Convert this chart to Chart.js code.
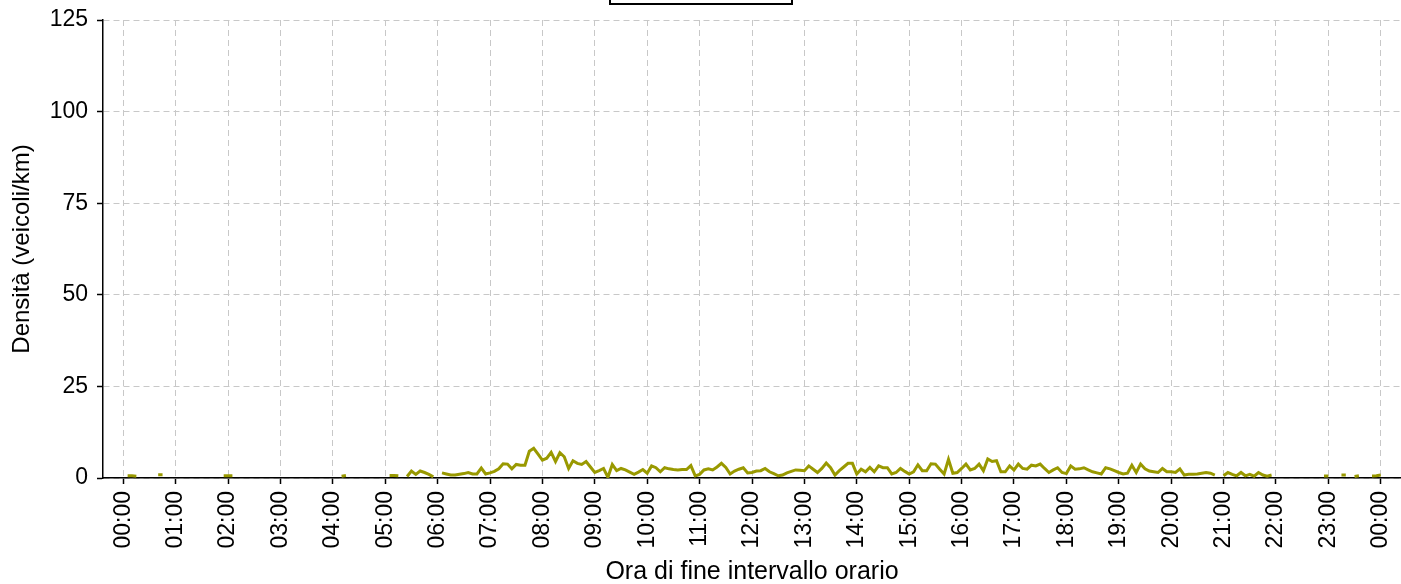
<!DOCTYPE html>
<html>
<head>
<meta charset="utf-8">
<script src="https://cdn.jsdelivr.net/npm/chart.js@4/dist/chart.umd.min.js"></script>
<style>
  html, body { margin: 0; padding: 0; background: #ffffff; }
  #wrap { width: 1401px; height: 584px; position: relative; }
</style>
</head>
<body>
<div id="wrap"><canvas id="c" width="1401" height="584"></canvas></div>
<script>
// Hour tick labels (x axis)
const hourLabels = ["00:00","01:00","02:00","03:00","04:00","05:00","06:00","07:00","08:00","09:00","10:00","11:00",
                    "12:00","13:00","14:00","15:00","16:00","17:00","18:00","19:00","20:00","21:00","22:00","23:00","00:00"];
// Y tick values
const yTicks = [0, 25, 50, 75, 100, 125];
// Sampling interval of the series (minutes)
const intervalMinutes = 5;
// Density values (veicoli/km), one per 5-minute interval from 00:00 to 24:00; null = no data
const density = [
  null,0.6,0.6,0.5,null,null,null,null,0.9,0.9,null,null,          // 00
  null,null,null,null,null,null,null,null,null,null,null,0.6,      // 01
  0.6,0.6,null,null,null,null,null,null,null,null,null,null,       // 02
  null,null,null,null,null,null,null,null,null,null,null,null,     // 03
  null,null,0.5,0.7,null,null,null,null,null,null,null,null,       // 04
  null,0.7,0.7,0.6,null,0.4,1.9,1.0,1.9,1.5,1.0,0.3,               // 05
  null,1.4,1.1,0.8,0.8,1.0,1.2,1.5,1.1,1.1,2.7,1.1,                // 06
  1.4,1.8,2.5,3.9,3.8,2.5,3.7,3.5,3.5,7.3,8.1,6.5,                 // 07
  4.9,5.4,7.0,4.5,6.9,5.8,2.6,4.7,4.0,3.7,4.5,3.0,                 // 08
  1.5,2.0,2.6,0.2,3.7,2.0,2.6,2.2,1.6,1.0,1.6,2.3,                 // 09
  1.3,3.3,2.8,1.7,2.8,2.5,2.3,2.2,2.3,2.3,3.4,0.6,                 // 10
  1.0,2.2,2.5,2.2,3.0,4.0,2.9,1.1,1.9,2.4,2.8,1.4,                 // 11
  1.5,1.9,2.0,2.6,1.7,1.2,0.6,0.8,1.4,1.8,2.2,2.1,                 // 12
  2.0,3.3,2.4,1.5,2.6,4.1,2.8,0.8,2.0,3.0,4.0,4.0,                 // 13
  1.1,2.4,1.7,2.9,1.7,3.3,2.8,2.8,1.1,1.5,2.6,1.8,                 // 14
  1.1,1.7,3.6,2.0,2.0,3.9,3.8,2.4,1.1,5.1,1.3,1.5,                 // 15
  2.6,3.8,2.2,2.6,3.8,2.0,5.2,4.5,4.7,1.7,1.7,3.3,                 // 16
  2.2,3.8,2.6,2.4,3.5,3.3,3.8,2.6,1.5,2.2,2.8,1.5,                 // 17
  1.2,3.3,2.4,2.5,2.8,2.2,1.7,1.4,1.1,2.8,2.5,2.0,                 // 18
  1.5,1.1,1.3,3.5,1.5,3.8,2.5,1.9,1.7,1.5,2.6,1.7,                 // 19
  1.7,1.5,2.5,0.8,1.0,1.0,1.1,1.3,1.5,1.3,0.8,null,                // 20
  0.6,1.5,1.0,0.6,1.5,0.6,1.0,0.5,1.5,0.8,0.5,0.8,                 // 21
  null,null,null,null,null,null,null,null,null,null,null,0.55,     // 22
  0.55,null,null,0.8,0.8,null,0.4,0.6,null,null,0.55,0.6,          // 23
  0.8                                                              // 24:00
];

const points = density.map((v, i) => ({ x: i * intervalMinutes, y: v }));
const hourValues = hourLabels.map((_, i) => i * 60);

const FONT = "'Liberation Sans', Arial, Helvetica, sans-serif";

const topBox = {
  id: 'topBox',
  afterDraw(chart) {
    const ctx = chart.ctx;
    ctx.save();
    ctx.strokeStyle = '#000000';
    ctx.lineWidth = 2;
    ctx.strokeRect(610, -30, 182, 34);
    ctx.restore();
  }
};

new Chart(document.getElementById('c'), {
  type: 'line',
  data: {
    datasets: [{
      label: 'Densità',
      data: points,
      borderColor: '#999900',
      backgroundColor: '#999900',
      borderWidth: 3,
      pointRadius: 0,
      pointHoverRadius: 0,
      tension: 0,
      spanGaps: false,
      fill: false
    }]
  },
  options: {
    responsive: false,
    animation: false,
    events: [],
    layout: { padding: { top: 20, right: 0, left: 0, bottom: 0 } },
    plugins: {
      legend: { display: false },
      tooltip: { enabled: false },
      title: { display: false }
    },
    scales: {
      x: {
        type: 'linear',
        min: -23.2,
        max: 1463.2,
        afterBuildTicks(scale) { scale.ticks = hourValues.map(v => ({ value: v })); },
        afterFit(scale) { scale.height = 106; scale.paddingLeft = 0; scale.paddingRight = 0; },
        ticks: {
          autoSkip: false,
          minRotation: 90,
          maxRotation: 90,
          padding: 7,
          color: '#000000',
          font: { family: FONT, size: 23 },
          callback(value) { const i = Math.round(value / 60); return hourLabels[i]; }
        },
        grid: {
          color: '#c8c8c8',
          lineWidth: 1,
          tickColor: '#000000',
          tickLength: 6,
          tickWidth: 1.5
        },
        border: { display: true, color: '#000000', width: 1.5, dash: [6, 4] },
        title: {
          display: true,
          text: 'Ora di fine intervallo orario',
          color: '#000000',
          font: { family: FONT, size: 25 },
          padding: { top: 0, bottom: -3 }
        }
      },
      y: {
        type: 'linear',
        min: 0,
        max: 125,
        afterBuildTicks(scale) { scale.ticks = yTicks.map(v => ({ value: v })); },
        afterFit(scale) { scale.width = 103; scale.paddingTop = 0; scale.paddingBottom = 0; },
        ticks: {
          padding: 9,
          color: '#000000',
          font: { family: FONT, size: 23 }
        },
        grid: {
          color: '#c8c8c8',
          lineWidth: 1,
          tickColor: '#000000',
          tickLength: 6,
          tickWidth: 1.5
        },
        border: { display: true, color: '#000000', width: 1.5, dash: [6, 4] },
        title: {
          display: true,
          text: 'Densità (veicoli/km)',
          color: '#000000',
          font: { family: FONT, size: 24 },
          padding: { top: 8, bottom: 0 }
        }
      }
    }
  },
  plugins: [topBox]
});
</script>
</body>
</html>
